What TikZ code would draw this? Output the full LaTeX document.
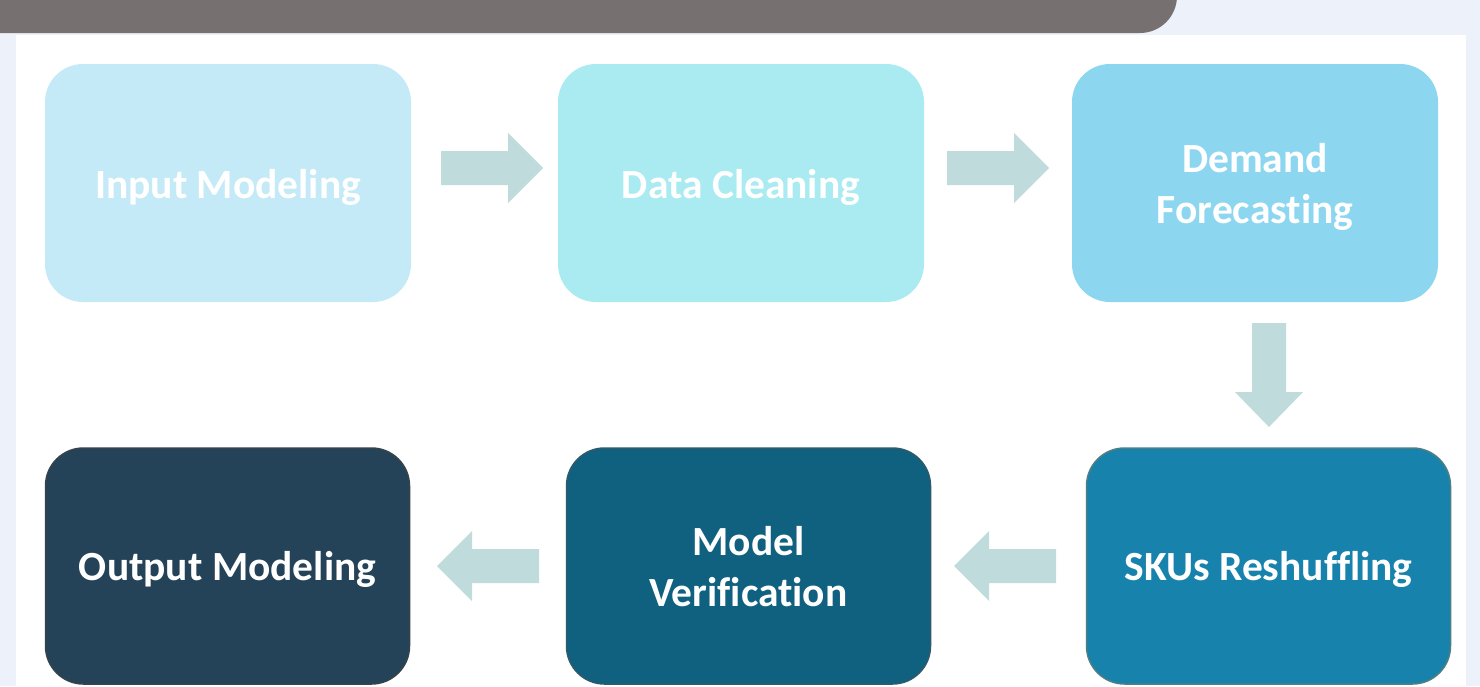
\documentclass[tikz,border=0pt]{standalone}
\usepackage{fontspec}
\setmainfont{Carlito}[Ligatures=NoCommon]
\definecolor{pagebg}{HTML}{EDF1FA}
\definecolor{banner}{HTML}{767170}
\definecolor{arrowc}{HTML}{C0DBDB}
\definecolor{cA}{HTML}{C5EAF7}
\definecolor{cB}{HTML}{A9EBF0}
\definecolor{cC}{HTML}{8DD6F0}
\definecolor{cD}{HTML}{1782AC}
\definecolor{cE}{HTML}{10607F}
\definecolor{cF}{HTML}{254358}
\definecolor{bD}{HTML}{4E7F84}
\definecolor{bE}{HTML}{2F5A6A}
\definecolor{bF}{HTML}{34434C}
\tikzset{
  stepbox/.style={rounded corners=38pt, minimum width=366pt, minimum height=238pt,
    inner sep=0pt},
  darkbox/.style={stepbox, line width=1.5pt, minimum width=364pt, minimum height=236pt},
  steplabel/.style={inner sep=0pt, align=center, text=white,
    font=\fontsize{41.5}{51}\selectfont\bfseries},
  blockarrow/.style={fill=arrowc}
}
\begin{document}
\begin{tikzpicture}[x=1pt,y=-1pt]
\useasboundingbox (0,0) rectangle (1480,686);
\fill[pagebg] (0,0) rectangle (1480,686);
\fill[white] (16,35) rectangle (1466,690);
\fill[banner] (0,-20) -- (1177,-20) [rounded corners=37pt] -- (1177,33) [sharp corners] -- (0,33) -- cycle;
% boxes
\node[stepbox, fill=cA] (in)  at (228,183) {};
\node[stepbox, fill=cB] (dc)  at (741,183) {};
\node[stepbox, fill=cC] (df)  at (1255,183) {};
\node[darkbox, fill=cD, draw=bD] (sku) at (1268.5,566) {};
\node[darkbox, fill=cE, draw=bE] (mv)  at (748.5,566) {};
\node[darkbox, fill=cF, draw=bF] (out) at (227.5,566) {};
% labels
\node[steplabel] (inL)  at ([yshift=-4pt]in.center)  {Input Modeling};
\node[steplabel] (dcL)  at ([yshift=-4pt]dc.center)  {Data Cleaning};
\node[steplabel] (dfL)  at ([yshift=-4pt]df.center)  {Demand\\Forecasting};
\node[steplabel] (skuL) at ([yshift=-3pt]sku.center) {SKUs Reshuffling};
\node[steplabel] (mvL)  at ([yshift=-1pt]mv.center)  {Model\\Verification};
\node[steplabel] (outL) at ([yshift=-3pt]out.center) {Output Modeling};
% block arrows
\fill[blockarrow] (441,151) -- (508,151) -- (508,133) -- (543,168) -- (508,203) -- (508,185) -- (441,185) -- cycle;
\fill[blockarrow] (947,151) -- (1014,151) -- (1014,133) -- (1049,168) -- (1014,203) -- (1014,185) -- (947,185) -- cycle;
\fill[blockarrow] (1252,323) -- (1286,323) -- (1286,392) -- (1303,392) -- (1269,427) -- (1235,392) -- (1252,392) -- cycle;
\fill[blockarrow] (1056,549) -- (989,549) -- (989,531) -- (954,566) -- (989,601) -- (989,583) -- (1056,583) -- cycle;
\fill[blockarrow] (539,549) -- (472,549) -- (472,531) -- (437,566) -- (472,601) -- (472,583) -- (539,583) -- cycle;
\end{tikzpicture}
\end{document}
